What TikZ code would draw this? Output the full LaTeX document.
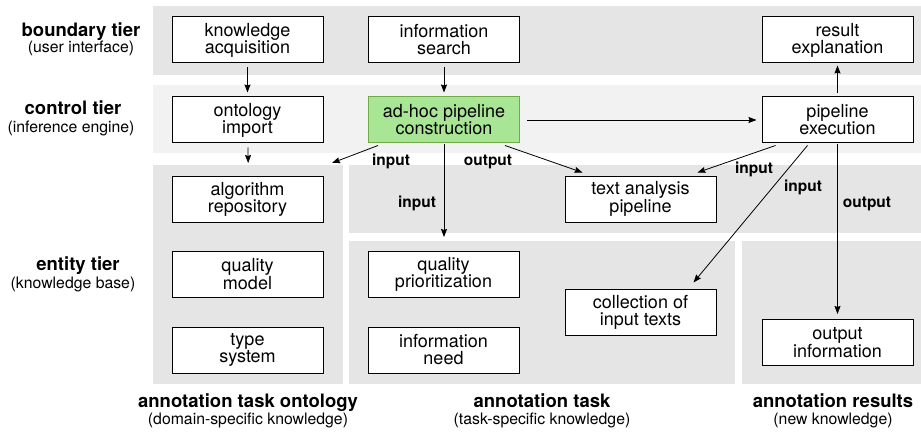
\documentclass[tikz,border=0pt]{standalone}
\usepackage{fontspec}
\setmainfont{TeX Gyre Heros}
\usetikzlibrary{arrows.meta}
\definecolor{bandgray}{RGB}{229,229,229}
\definecolor{ctrlgray}{RGB}{242,242,242}
\definecolor{adhocfill}{RGB}{168,230,150}
\definecolor{adhocline}{RGB}{112,170,70}
\begin{document}
\begin{tikzpicture}[x=1pt,y=-1pt,
  band/.style={fill=bandgray, draw=none, inner sep=0pt, anchor=north west},
  box/.style={draw=black, line width=1pt, fill=white, minimum width=151pt,
    minimum height=46pt, inner sep=0pt, align=center,
    font=\fontsize{18}{17}\selectfont},
  hot/.style={box, fill=adhocfill, draw=adhocline},
  flow/.style={-{Stealth[length=8pt,width=6pt,inset=1pt]}, line width=0.8pt},
  lbl/.style={font=\bfseries\fontsize{15.5}{16}\selectfont, inner sep=0pt, anchor=base},
  tiertitle/.style={font=\bfseries\fontsize{18.5}{20}\selectfont, inner sep=0pt, anchor=base},
  tiersub/.style={font=\fontsize{15.8}{18}\selectfont, inner sep=0pt, anchor=base}
]
\useasboundingbox (0,0) rectangle (921,433);

% tier bands
\node[band, minimum width=768pt, minimum height=69pt] (bnd) at (153,6) {};
\node[band, fill=ctrlgray, minimum width=768pt, minimum height=68pt] (ctl) at (153,85) {};
\node[band, minimum width=190pt, minimum height=219pt] (onto) at (153,165) {};
\node[band, minimum width=572pt, minimum height=68pt] (taskup) at (349,165) {};
\node[band, minimum width=386pt, minimum height=143pt] (tasklow) at (349,241) {};
\node[band, minimum width=179pt, minimum height=143pt] (res) at (742,241) {};

% tier titles
\node[tiertitle] (t1) at (81,37) {boundary tier};
\node[tiersub] (s1) at (81,53) {(user interface)};
\node[tiertitle] (t2) at (73,115) {control tier};
\node[tiersub] (s2) at (71,133) {(inference engine)};
\node[tiertitle] (t3) at (78,270) {entity tier};
\node[tiersub] (s3) at (73,288) {(knowledge base)};

\node[tiertitle] (c1) at (248,407) {annotation task ontology};
\node[tiersub] (d1) at (248,424.5) {(domain-specific knowledge)};
\node[tiertitle] (c2) at (542,407) {annotation task};
\node[tiersub] (d2) at (542,424.5) {(task-specific knowledge)};
\node[tiertitle] (c3) at (833,407) {annotation results};
\node[tiersub] (d3) at (833,424.5) {(new knowledge)};

% components
\node[box] (ka) at (247.5,40) {knowledge\\acquisition};
\node[box] (is) at (444,40) {information\\search};
\node[box] (re) at (837.5,40) {result\\explanation};
\node[box] (oi) at (247.5,120) {ontology\\import};
\node[hot] (ad) at (444,120) {ad-hoc pipeline\\construction};
\node[box] (pe) at (837.5,120) {pipeline\\execution};
\node[box] (ar) at (247.5,199) {algorithm\\repository};
\node[box] (qm) at (247.5,274.5) {quality\\model};
\node[box] (ts) at (247.5,350) {type\\system};
\node[box] (qp) at (443.5,274.5) {quality\\prioritization};
\node[box] (in) at (443.5,350) {information\\need};
\node[box] (tap) at (640.5,199) {text analysis\\pipeline};
\node[box] (col) at (640.5,312) {collection of\\input texts};
\node[box] (oinf) at (837.5,342.5) {output\\information};

% free arrow ends at the band edges
\coordinate (ontoin) at (332,163);
\coordinate (taskin) at (444,237);

% connectors
\draw[flow, shorten <=4pt, shorten >=4pt] (ka) -- (oi);
\draw[flow, shorten <=4pt, shorten >=4pt] (is) -- (ad);
\draw[flow, shorten <=3pt, shorten >=2pt] (pe) -- (re);
\draw[flow, shorten <=4pt, shorten >=2pt] (oi) -- (onto.north);
\draw[flow] ([xshift=10pt,yshift=-2pt]ad.south west) -- (ontoin);
\draw[flow, shorten <=1pt] (ad.south) -- (taskin);
\draw[flow] ([xshift=-15pt,yshift=-2pt]ad.south east) -- ([xshift=18pt,yshift=3pt]tap.north west);
\draw[flow, shorten <=7pt, shorten >=5pt] (ad) -- (pe);
\draw[flow] ([xshift=14pt,yshift=-2pt]pe.south west) -- ([xshift=-19pt,yshift=3pt]tap.north east);
\draw[flow] ([xshift=46pt,yshift=-2pt]pe.south west) -- ([xshift=-23pt,yshift=6pt]col.north east);
\draw[flow, shorten <=1pt, shorten >=5pt] (pe) -- (oinf);

% connector labels
\node[lbl] (l1) at (391,165) {input};
\node[lbl] (l2) at (488,165) {output};
\node[lbl] (l3) at (417,207) {input};
\node[lbl] (l4) at (754,173) {input};
\node[lbl] (l5) at (803,191) {input};
\node[lbl] (l6) at (867,207) {output};
\end{tikzpicture}
\end{document}
